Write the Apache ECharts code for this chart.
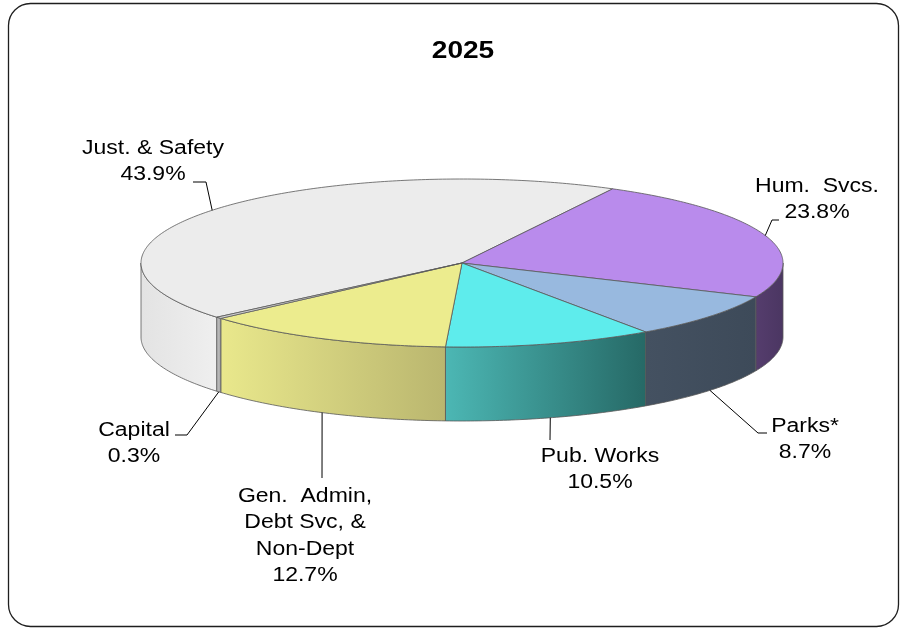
<!DOCTYPE html>
<html>
<head>
<meta charset="utf-8">
<script src="https://cdn.jsdelivr.net/npm/echarts@6/dist/echarts.min.js"></script>
<style>
  html, body { margin: 0; padding: 0; background: #fff; }
  #chart { width: 902px; height: 630px; }
</style>
</head>
<body>
<div id="chart"></div>
<script>
// ---- data ----
const chartTitle = '2025';
const categories = [
  'Just. & Safety',
  'Hum.  Svcs.',
  'Parks*',
  'Pub. Works',
  'Gen.  Admin,\nDebt Svc, &\nNon-Dept',
  'Capital'
];
const shares = [43.9, 23.8, 8.7, 10.5, 12.7, 0.3];

// ---- look ----
const topColors = ['#ececec', '#b98bec', '#98b9df', '#5eecec', '#ecec8e', '#d6d6d6'];
const sideColors = [
  ['#e3e3e3', '#efefef'],
  ['#553d6d', '#4b3662'],
  ['#445161', '#3d4a59'],
  ['#4cb7b4', '#266966'],
  ['#e9e88c', '#bab66f'],
  ['#c4c4c4', '#a6a6a6']
];
const outline = '#585858';

// ellipse of the top face, wall depth, angle where the first slice starts (deg, clockwise)
const geom = { cx: 462, cy: 263, rx: 321, ry: 84, depth: 74, start: -220.2 };

// label text block (centre x, top y) and leader elbow points, per slice
const labelLayout = [
  { x: 153, y: 135, leg: [[206, 182], [193, 182]] },
  { x: 817, y: 173, leg: [[772, 220], [779, 220]] },
  { x: 805, y: 413, leg: [[758, 433], [767, 433]] },
  { x: 600, y: 443, leg: [[550, 440]] },
  { x: 305, y: 483, leg: [[322, 478]] },
  { x: 134, y: 417, leg: [[187, 435], [175, 435]] }
];
const textScaleX = 1.15;

const total = shares.reduce((s, v) => s + v, 0);
const startAngles = [];
(function () {
  let acc = geom.start;
  shares.forEach(v => { startAngles.push(acc); acc += v / total * 360; });
})();

const rad = d => d * Math.PI / 180;
function pt(deg, dy) {
  return [geom.cx + geom.rx * Math.cos(rad(deg)), geom.cy + geom.ry * Math.sin(rad(deg)) + (dy || 0)];
}
function arc(a0, a1, dy) {
  const pts = [];
  const n = Math.max(2, Math.ceil(Math.abs(a1 - a0) / 0.75));
  for (let k = 0; k <= n; k++) pts.push(pt(a0 + (a1 - a0) * k / n, dy));
  return pts;
}

function renderItem(params, api) {
  const i = params.dataIndex;
  const span = api.value(0) / total * 360;
  const a0 = startAngles[i];
  const a1 = a0 + span;
  const children = [];

  // side walls: only the front half (0..180 deg) of the rim is visible
  for (let k = -1; k <= 1; k++) {
    const lo = Math.max(a0, 360 * k), hi = Math.min(a1, 180 + 360 * k);
    if (hi <= lo) continue;
    const upper = arc(lo, hi, 0);
    const lower = arc(hi, lo, geom.depth);
    const xs = upper.map(p => p[0]);
    const xMin = Math.min.apply(null, xs), xMax = Math.max.apply(null, xs);
    children.push({
      type: 'polygon',
      shape: { points: upper.concat(lower) },
      style: {
        fill: {
          type: 'linear', x: xMin, y: 0, x2: Math.max(xMax, xMin + 1), y2: 0, global: true,
          colorStops: [{ offset: 0, color: sideColors[i][0] }, { offset: 1, color: sideColors[i][1] }]
        },
        stroke: outline, lineWidth: 0.8
      }
    });
  }

  // top face
  children.push({
    type: 'polygon',
    shape: { points: [[geom.cx, geom.cy]].concat(arc(a0, a1, 0)) },
    style: { fill: topColors[i], stroke: outline, lineWidth: 0.8, lineJoin: 'round' }
  });

  // leader line anchored at the slice's mid angle
  let mid = (a0 + a1) / 2;
  const m = ((mid % 360) + 360) % 360;
  const anchor = (m > 0 && m < 180) ? pt(mid, geom.depth) : pt(mid, 0);
  const lay = labelLayout[i];
  children.push({
    type: 'polyline',
    shape: { points: [anchor].concat(lay.leg) },
    style: { fill: null, stroke: '#000', lineWidth: 1 }
  });

  // label: name and share
  children.push({
    type: 'text',
    x: lay.x, y: lay.y, scaleX: textScaleX,
    style: {
      text: categories[i] + '\n' + api.value(0).toFixed(1) + '%',
      font: '20px "Liberation Sans", Arial, sans-serif',
      fill: '#000', align: 'center', verticalAlign: 'top', lineHeight: 26.5
    }
  });

  return { type: 'group', children: children };
}

const chart = echarts.init(document.getElementById('chart'), null, { renderer: 'canvas' });
chart.setOption({
  backgroundColor: '#ffffff',
  animation: false,
  graphic: [
    {
      type: 'rect', silent: true,
      shape: { x: 8.5, y: 3.5, width: 890, height: 623, r: 22 },
      style: { fill: 'none', stroke: '#1e1e1e', lineWidth: 1.3 }
    },
    {
      type: 'text', silent: true, x: 463, y: 39, scaleX: 1.17,
      style: {
        text: chartTitle, font: 'bold 24px "Liberation Sans", Arial, sans-serif',
        fill: '#000', align: 'center', verticalAlign: 'top', lineHeight: 24
      }
    }
  ],
  series: [{
    type: 'custom',
    coordinateSystem: 'none',
    silent: true,
    renderItem: renderItem,
    data: shares.map((v, i) => ({ name: categories[i], value: [v] }))
  }]
});
</script>
</body>
</html>
